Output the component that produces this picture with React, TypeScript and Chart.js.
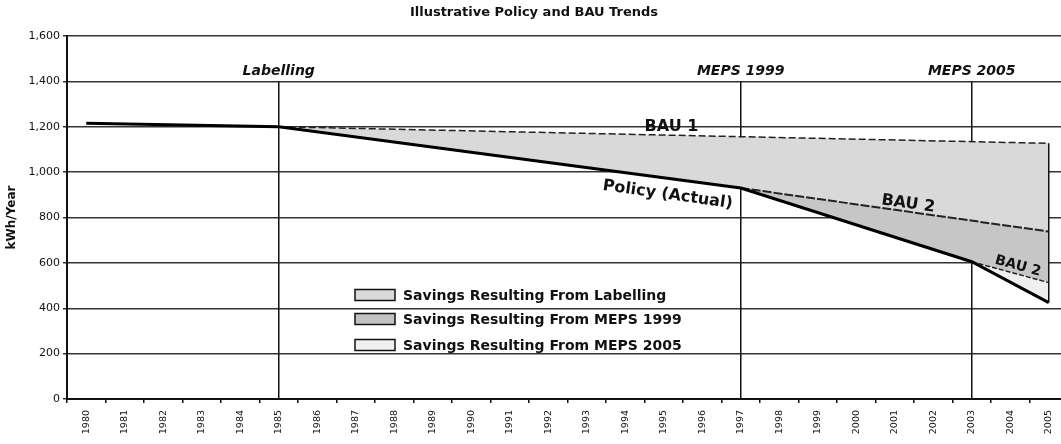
import React, { useEffect, useRef } from 'react';
import { Chart, registerables } from 'chart.js';

Chart.register(...registerables);

// ---------- data ----------
const years = [
  '1980', '1981', '1982', '1983', '1984', '1985', '1986', '1987', '1988', '1989',
  '1990', '1991', '1992', '1993', '1994', '1995', '1996', '1997', '1998', '1999',
  '2000', '2001', '2002', '2003', '2004', '2005',
];
const policyYears = ['1980', '1985', '1997', '2003', '2005'];
const policyValues = [1215, 1200, 930, 605, 425];
const bau1Years = ['1985', '2005'];
const bau1Values = [1200, 1127];
const bau2aYears = ['1997', '2005'];
const bau2aValues = [930, 738];
const bau2bYears = ['2003', '2005'];
const bau2bValues = [605, 513];
const milestoneYears = ['1985', '1997', '2003'];
const milestoneLabels = ['Labelling', 'MEPS 1999', 'MEPS 2005'];
const milestoneTop = 1400;
const yTicks = [0, 200, 400, 600, 800, 1000, 1200, 1400, 1600];
const legendLabels = [
  'Savings Resulting From Labelling',
  'Savings Resulting From MEPS 1999',
  'Savings Resulting From MEPS 2005',
];
const fillColors = ['#d9d9d9', '#c6c6c6', '#efefef'];
const legendBoxColors = ['#d9d9d9', '#c2c2c2', '#f0f0f0'];
const chartTitle = 'Illustrative Policy and BAU Trends';
const yTitle = 'kWh/Year';

// line label anchors (category index, value), rotation in degrees
const lineLabels = [
  { text: 'BAU 1', at: 15.2, value: 1199, rot: 0, size: 16 },
  { text: 'Policy (Actual)', at: 15.1, value: 900, rot: 8, size: 16 },
  { text: 'BAU 2', at: 21.35, value: 860, rot: 8, size: 16 },
  { text: 'BAU 2', at: 24.2, value: 586, rot: 15, size: 14 },
];

const FONT = '"DejaVu Sans", "Liberation Sans", Arial, sans-serif';

const pts = (xs: string[], ys: number[]) => xs.map((x, i) => ({ x, y: ys[i] }));

const annotationPlugin = {
  id: 'annotations',
  afterDraw(chart: any) {
    const { ctx, chartArea, scales } = chart;
    const xs = scales.x;
    const ys = scales.y;
    ctx.save();
    ctx.fillStyle = '#111';
    // milestone labels
    ctx.font = `italic bold 14px ${FONT}`;
    ctx.textAlign = 'center';
    ctx.textBaseline = 'alphabetic';
    milestoneYears.forEach((yr, i) => {
      const px = xs.getPixelForValue(years.indexOf(yr));
      ctx.fillText(milestoneLabels[i], px, ys.getPixelForValue(milestoneTop) - 6);
    });
    // line labels
    ctx.textBaseline = 'middle';
    lineLabels.forEach((l) => {
      ctx.save();
      ctx.translate(xs.getPixelForValue(l.at), ys.getPixelForValue(l.value));
      ctx.rotate((l.rot * Math.PI) / 180);
      ctx.font = `bold ${l.size}px ${FONT}`;
      ctx.fillText(l.text, 0, 0);
      ctx.restore();
    });
    // legend
    const left = chartArea.left + 288;
    const rowY = [chartArea.top + 259, chartArea.top + 283, chartArea.top + 309];
    ctx.textAlign = 'left';
    ctx.font = `bold 14px ${FONT}`;
    legendLabels.forEach((lab, i) => {
      ctx.fillStyle = legendBoxColors[i];
      ctx.fillRect(left, rowY[i] - 5.5, 40, 11);
      ctx.strokeStyle = '#111';
      ctx.lineWidth = 1.5;
      ctx.strokeRect(left, rowY[i] - 5.5, 40, 11);
      ctx.fillStyle = '#111';
      ctx.fillText(lab, left + 48, rowY[i] + 1);
    });
    ctx.restore();
  },
};

export default function App() {
  const canvasRef = useRef<HTMLCanvasElement | null>(null);

  useEffect(() => {
    if (!canvasRef.current) return;
    Chart.defaults.font.family = FONT;
    const lastYear = years[years.length - 1];
    const milestoneSets = milestoneYears.map((yr) => ({
      label: 'm' + yr,
      data: [{ x: yr, y: 0 }, { x: yr, y: milestoneTop }],
      borderColor: '#111',
      borderWidth: 1.5,
      pointRadius: 0,
      fill: false,
      order: 10,
    }));
    const chart = new Chart(canvasRef.current, {
      type: 'line',
      data: {
        labels: years,
        datasets: [
          {
            label: 'BAU 1',
            data: pts(bau1Years, bau1Values),
            borderColor: '#222',
            borderWidth: 1.5,
            borderDash: [7, 3],
            backgroundColor: fillColors[0],
            fill: 3,
            pointRadius: 0,
            order: 5,
          },
          {
            label: 'BAU 2a',
            data: pts(bau2aYears, bau2aValues),
            borderColor: '#222',
            borderWidth: 2,
            borderDash: [9, 2],
            backgroundColor: fillColors[1],
            fill: 3,
            pointRadius: 0,
            order: 4,
          },
          {
            label: 'BAU 2b',
            data: pts(bau2bYears, bau2bValues),
            borderColor: '#222',
            borderWidth: 1.5,
            borderDash: [5, 2],
            backgroundColor: fillColors[2],
            fill: 3,
            pointRadius: 0,
            order: 3,
          },
          {
            label: 'Policy (Actual)',
            data: pts(policyYears, policyValues),
            borderColor: '#000',
            borderWidth: 3,
            fill: false,
            pointRadius: 0,
            order: 1,
          },
          {
            label: 'edge',
            data: [
              { x: lastYear, y: bau1Values[bau1Values.length - 1] },
              { x: lastYear, y: policyValues[policyValues.length - 1] },
            ],
            borderColor: '#111',
            borderWidth: 1.5,
            fill: false,
            pointRadius: 0,
            order: 2,
          },
          ...milestoneSets,
        ] as any,
      },
      options: {
        animation: false,
        responsive: true,
        maintainAspectRatio: false,
        layout: { padding: { left: 0, right: 4, top: 0, bottom: 0 } },
        elements: { line: { tension: 0 } },
        plugins: {
          legend: { display: false },
          tooltip: { enabled: false },
          title: {
            display: true,
            text: chartTitle,
            color: '#111',
            font: { family: FONT, size: 13, weight: 'bold' },
            padding: { top: 5, bottom: 15.4 },
          },
        },
        scales: {
          x: {
            type: 'category',
            offset: true,
            grid: {
              offset: true,
              drawOnChartArea: false,
              drawTicks: true,
              tickLength: 4,
              color: '#111',
              lineWidth: 1.5,
            },
            border: { display: true, color: '#111', width: 2 },
            ticks: {
              autoSkip: false,
              minRotation: 90,
              maxRotation: 90,
              padding: 7,
              color: '#111',
              font: { family: FONT, size: 9.5 },
            },
            afterFit: (s: any) => {
              s.height = 45;
            },
          },
          y: {
            min: 0,
            max: 1600,
            afterBuildTicks: (s: any) => {
              s.ticks = yTicks.map((v) => ({ value: v }));
            },
            grid: { color: '#333', lineWidth: 1.5, tickLength: 4, drawTicks: true },
            border: { display: true, color: '#111', width: 2 },
            ticks: {
              padding: 3,
              color: '#111',
              font: { family: FONT, size: 11 },
              callback: (v: any) => Number(v).toLocaleString('en-US'),
            },
            title: {
              display: true,
              text: yTitle,
              color: '#111',
              font: { family: FONT, size: 12, weight: 'bold' },
              padding: { top: 5, bottom: 0 },
            },
            afterFit: (s: any) => {
              s.width = 67;
            },
          },
        },
      },
      plugins: [annotationPlugin],
    });
    return () => chart.destroy();
  }, []);

  return (
    <div
      style={{
        position: 'fixed',
        left: 0,
        top: 0,
        width: 1061,
        height: 444,
        overflow: 'hidden',
        background: '#fff',
      }}
    >
      <div style={{ position: 'relative', width: 1072, height: 444 }}>
        <canvas ref={canvasRef} />
      </div>
    </div>
  );
}
